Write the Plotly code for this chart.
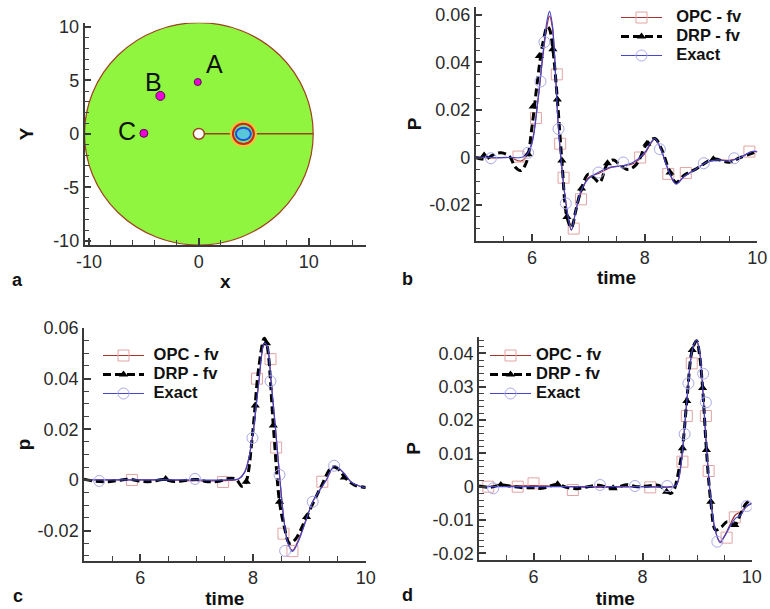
import plotly.graph_objects as go

W, H = 770, 609
FONT = "Liberation Sans"
AX = "#3a3a3a"
TXT = "#2a2a2a"

# ---- tick labels ----
a_xticks = [-10, 0, 10]
a_xlabels = ["-10", "0", "10"]
a_xminor = [-8, -6, -4, -2, 2, 4, 6, 8, 12, 14]
a_yticks = [-10, -5, 0, 5, 10]
a_ylabels = ["-10", "-5", "0", "5", "10"]
a_yminor = [-9, -8, -7, -6, -4, -3, -2, -1, 1, 2, 3, 4, 6, 7, 8, 9]
time_ticks = [6, 8, 10]
time_labels = ["6", "8", "10"]
time_minor = [5.5, 6.5, 7, 7.5, 8.5, 9, 9.5]
bc_yticks = [-0.02, 0, 0.02, 0.04, 0.06]
bc_ylabels = ["-0.02", "0", "0.02", "0.04", "0.06"]
bc_yminor = [-0.03, -0.025, -0.015, -0.01, -0.005, 0.005, 0.01, 0.015, 0.025, 0.03, 0.035, 0.045, 0.05, 0.055]
d_yticks = [-0.02, -0.01, 0, 0.01, 0.02, 0.03, 0.04]
d_ylabels = ["-0.02", "-0.01", "0", "0.01", "0.02", "0.03", "0.04"]
d_yminor = [-0.018, -0.016, -0.014, -0.012, -0.008, -0.006, -0.004, -0.002, 0.002, 0.004, 0.006, 0.008, 0.012, 0.014, 0.016, 0.018, 0.022, 0.024, 0.026, 0.028, 0.032, 0.034, 0.036, 0.038, 0.042, 0.044]

# ---- panel a ----
domain_radius = 10.4
hole_radius = 0.5
source_x = 4.05
probe_names = ["A", "B", "C"]
probe_x = [-0.1, -3.5, -5.0]
probe_y = [4.85, 3.55, 0.05]
probe_sizes = [7, 9, 8]
slit_x = [0.5, 10.4]
slit_y = [0, 0]

# ---- panel b ----
b_t = [5, 5.3, 5.6, 5.8, 5.9, 6.0, 6.1, 6.2, 6.27, 6.31, 6.36, 6.42, 6.47, 6.55, 6.62, 6.7, 6.78, 6.88, 7.0, 7.2, 7.4, 7.6, 7.8, 8.0, 8.1, 8.18, 8.27, 8.4, 8.5, 8.56, 8.7, 8.9, 9.1, 9.3, 9.5, 9.7, 9.9, 10]
b_exact = [0.0003, 0, 0, 0, 0.001, 0.006, 0.023, 0.045, 0.058, 0.0615, 0.056, 0.034, 0.012, -0.009, -0.022, -0.0305, -0.022, -0.0135, -0.009, -0.006, -0.004, -0.0035, -0.002, 0.002, 0.006, 0.008, 0.0045, -0.004, -0.0095, -0.0112, -0.008, -0.005, -0.002, -0.001, -0.0015, 0, 0.0025, 0.0025]
b_opc = [0.0003, -0.0002, 0, -0.0015, 0.0005, 0.0065, 0.023, 0.044, 0.056, 0.0595, 0.055, 0.034, 0.012, -0.009, -0.022, -0.0305, -0.022, -0.0145, -0.0085, -0.0065, -0.0042, -0.0035, -0.0025, 0.0015, 0.0055, 0.0078, 0.0045, -0.004, -0.0095, -0.011, -0.008, -0.005, -0.002, -0.001, -0.0012, 0, 0.0025, 0.0025]
b_drp_t = [5, 5.1, 5.2, 5.3, 5.45, 5.6, 5.7, 5.8, 5.9, 6.0, 6.1, 6.15, 6.2, 6.27, 6.31, 6.37, 6.45, 6.53, 6.62, 6.7, 6.78, 6.88, 7.0, 7.1, 7.2, 7.34, 7.45, 7.55, 7.7, 7.85, 8.04, 8.18, 8.3, 8.45, 8.56, 8.7, 8.9, 9.22, 9.5, 9.7, 10]
b_drp = [0, -0.0006, -0.0005, 0.001, 0.002, 0.0005, -0.004, -0.0055, -0.002, 0.013, 0.033, 0.042, 0.049, 0.055, 0.054, 0.0455, 0.0244, -0.0013, -0.025, -0.0295, -0.022, -0.013, -0.007, -0.0085, -0.0105, -0.0025, -0.001, -0.003, -0.005, -0.003, 0.0058, 0.008, 0.0035, -0.0063, -0.0105, -0.0075, -0.005, -0.0007, -0.002, 0, 0.0025]
b_opc_mt = [5.76, 6.07, 6.44, 6.50, 6.56, 6.74, 6.87, 7.92, 8.42, 8.73, 9.86]
b_opc_mv = [0.0004, 0.0166, 0.035, 0.0058, -0.0085, -0.0299, -0.0176, 0, -0.0069, -0.0065, 0.0025]
b_drp_mt = [5.15, 5.93, 6.02, 6.13, 6.37, 6.45, 6.53, 6.62, 6.88, 7.34, 8.04, 8.45, 9.22]
b_drp_mv = [0.0008, 0.0014, 0.0215, 0.0427, 0.0455, 0.0244, -0.0013, -0.025, -0.013, -0.0024, 0.0058, -0.0063, -0.0007]
b_exa_mt = [5.27, 5.93, 6.15, 6.22, 6.47, 6.60, 7.18, 7.62, 8.27, 9.05, 9.59]
b_exa_mv = [-0.0003, 0.002, 0.032, 0.0486, 0.012, -0.0193, -0.0063, -0.0021, 0.0035, -0.0024, -0.0003]

# ---- panel c ----
c_t = [5, 5.5, 6, 6.5, 7, 7.5, 7.75, 7.85, 7.92, 8.0, 8.1, 8.2, 8.25, 8.32, 8.4, 8.47, 8.55, 8.62, 8.7, 8.8, 9.0, 9.06, 9.3, 9.45, 9.6, 9.75, 9.9, 10]
c_exact = [0, 0, 0, 0, 0, 0, 0.0005, 0.003, 0.008, 0.0185, 0.038, 0.054, 0.053, 0.039, 0.02, 0.002, -0.016, -0.025, -0.0282, -0.0245, -0.012, -0.0086, 0.0, 0.0056, 0.003, -0.001, -0.0025, -0.003]
c_opc = [0, 0, 0, 0, -0.0003, -0.0003, 0.0005, 0.003, 0.008, 0.0185, 0.038, 0.0535, 0.0525, 0.039, 0.02, 0.002, -0.016, -0.025, -0.0278, -0.024, -0.012, -0.0086, 0.0, 0.0054, 0.003, -0.001, -0.0025, -0.003]
c_drp_t = [5, 5.2, 5.4, 5.6, 5.8, 6, 6.2, 6.4, 6.6, 6.8, 7, 7.2, 7.4, 7.6, 7.7, 7.8, 7.85, 7.9, 8.0, 8.1, 8.2, 8.25, 8.36, 8.47, 8.55, 8.65, 8.75, 8.95, 9.2, 9.4, 9.5, 9.65, 9.8, 10]
c_drp = [0.0003, -0.0005, -0.0007, -0.0002, 0.0003, -0.0005, -0.0006, 0.0002, -0.0006, -0.0002, 0.0002, -0.0007, -0.0005, 0.0007, 0.0003, -0.0025, -0.002, 0.001, 0.02, 0.044, 0.056, 0.053, 0.0215, -0.0086, -0.018, -0.025, -0.0235, -0.0146, -0.003, 0.005, 0.0045, 0.0005, -0.002, -0.003]
c_opc_mt = [5.85, 7.47, 8.07, 8.31, 8.41, 8.54, 8.70, 9.23]
c_opc_mv = [0, -0.0008, 0.04, 0.0477, 0.0128, -0.0212, -0.0281, -0.0007]
c_drp_mt = [6.45, 7.88, 8.04, 8.24, 8.36, 8.47, 8.95, 9.62]
c_drp_mv = [0.0004, -0.0007, 0.0294, 0.054, 0.0215, -0.0086, -0.0146, 0.001]
c_exa_mt = [5.27, 6.97, 7.99, 8.31, 8.47, 8.57, 9.06, 9.44]
c_exa_mv = [-0.0004, 0.0004, 0.0166, 0.039, 0.002, -0.028, -0.0086, 0.0056]

# ---- panel d ----
d_t = [5, 6, 7, 8, 8.55, 8.62, 8.67, 8.73, 8.81, 8.91, 8.99, 9.05, 9.1, 9.17, 9.25, 9.33, 9.42, 9.5, 9.6, 9.7, 9.8, 9.9, 10]
d_exact = [0, 0, 0, 0, 0, 0.0005, 0.003, 0.0105, 0.0255, 0.041, 0.044, 0.04, 0.03, 0.012, -0.004, -0.013, -0.0168, -0.015, -0.012, -0.0095, -0.0085, -0.006, -0.005]
d_opc = [0, 0.0003, -0.0002, 0, 0, 0.0005, 0.003, 0.0105, 0.0255, 0.0405, 0.0435, 0.04, 0.03, 0.012, -0.004, -0.013, -0.0165, -0.0148, -0.0115, -0.0085, -0.0075, -0.006, -0.005]
d_drp_t = [5, 5.2, 5.4, 5.6, 5.8, 6.0, 6.15, 6.44, 6.6, 6.8, 7.0, 7.2, 7.46, 7.7, 7.9, 8.1, 8.3, 8.44, 8.52, 8.58, 8.64, 8.73, 8.81, 8.91, 8.99, 9.04, 9.10, 9.17, 9.25, 9.34, 9.45, 9.55, 9.69, 9.8, 9.9, 10]
d_drp = [0.0002, -0.0002, 0.0005, 0.0001, -0.0003, -0.0003, -0.0005, 0.0007, -0.0002, -0.0006, 0, 0.0004, -0.0005, 0.0006, 0, 0.0002, 0.0004, -0.0015, -0.002, -0.0008, 0.003, 0.0115, 0.0257, 0.041, 0.0438, 0.04, 0.0296, 0.011, -0.0045, -0.013, -0.012, -0.0105, -0.0115, -0.008, -0.005, -0.004]
d_opc_mt = [5.17, 5.71, 6.0, 6.72, 8.14, 8.73, 8.81, 8.9, 9.16, 9.21, 9.54, 9.69]
d_opc_mv = [0, 0, 0.001, -0.001, -0.0002, 0.0075, 0.0212, 0.037, 0.0212, 0.0047, -0.0153, -0.0092]
d_drp_mt = [5.4, 6.44, 7.46, 8.44, 8.73, 8.81, 8.91, 9.10, 9.17, 9.25, 9.69]
d_drp_mv = [0.0005, 0.0007, -0.0005, -0.0015, 0.0115, 0.0257, 0.041, 0.0296, 0.011, -0.0045, -0.0115]
d_exa_mt = [5.26, 7.22, 7.86, 8.45, 8.77, 8.84, 9.11, 9.16, 9.37, 9.91]
d_exa_mv = [-0.0005, 0.0005, 0.0002, 0.0002, 0.0158, 0.031, 0.0339, 0.0253, -0.0165, -0.0058]

OPC_NAME, DRP_NAME, EXACT_NAME = "OPC - fv", "DRP - fv", "Exact"
RED, RED_M = "#a83232", "#e2a3a3"
BLUE, BLUE_M = "#4646cc", "#a9a9e8"


def gaps(vals):
    out = []
    for v in vals:
        out += [v, None]
    return out


def dom_x(a, b):
    return [a / W, b / W]


def dom_y(top, bottom):
    return [1 - bottom / H, 1 - top / H]


def lname(text, pad):
    return '<span style="font-size:16.5px">' + "&nbsp;" * pad + text + "</span>"


fig = go.Figure()


def add_panel(idx, legend, pad, t, opc, exact, drp_t, drp, om, dm, em):
    ax = dict(xaxis=f"x{idx}", yaxis=f"y{idx}")
    fig.add_trace(go.Scatter(x=t, y=opc, mode="lines", showlegend=False, line=dict(color=RED, width=1.2, shape="spline"), **ax))
    fig.add_trace(go.Scatter(x=gaps(om[0]), y=gaps(om[1]), name=lname(OPC_NAME, pad), legend=legend, mode="lines+markers",
                             line=dict(color=RED, width=1.2), connectgaps=False,
                             marker=dict(symbol="square-open", size=11, color=RED_M, line=dict(color=RED_M, width=1)), **ax))
    fig.add_trace(go.Scatter(x=drp_t, y=drp, mode="lines", showlegend=False, line=dict(color="black", width=3, dash="8px,4px", shape="spline"), **ax))
    fig.add_trace(go.Scatter(x=gaps(dm[0]), y=gaps(dm[1]), name=lname(DRP_NAME, pad), legend=legend, mode="lines+markers",
                             line=dict(color="black", width=3, dash="8px,4px"), connectgaps=False,
                             marker=dict(symbol="triangle-up", size=8, color="black"), **ax))
    fig.add_trace(go.Scatter(x=t, y=exact, mode="lines", showlegend=False, line=dict(color=BLUE, width=1.2, shape="spline"), **ax))
    fig.add_trace(go.Scatter(x=gaps(em[0]), y=gaps(em[1]), name=lname(EXACT_NAME, pad), legend=legend, mode="lines+markers",
                             line=dict(color=BLUE, width=1.2), connectgaps=False,
                             marker=dict(symbol="circle-open", size=11, color=BLUE_M, line=dict(color=BLUE_M, width=1)), **ax))


# panel a marks
fig.add_trace(go.Scatter(x=slit_x, y=slit_y, mode="lines", showlegend=False, line=dict(color="#a04020", width=1.5), xaxis="x", yaxis="y"))
fig.add_trace(go.Scatter(x=probe_x, y=probe_y, mode="markers", showlegend=False, text=probe_names,
                         marker=dict(color="#f000d8", opacity=1, size=probe_sizes, line=dict(color="#501048", width=1)), xaxis="x", yaxis="y"))

add_panel(2, "legend", 2, b_t, b_opc, b_exact, b_drp_t, b_drp, (b_opc_mt, b_opc_mv), (b_drp_mt, b_drp_mv), (b_exa_mt, b_exa_mv))
add_panel(3, "legend2", 1, c_t, c_opc, c_exact, c_drp_t, c_drp, (c_opc_mt, c_opc_mv), (c_drp_mt, c_drp_mv), (c_exa_mt, c_exa_mv))
add_panel(4, "legend3", 0, d_t, d_opc, d_exact, d_drp_t, d_drp, (d_opc_mt, d_opc_mv), (d_drp_mt, d_drp_mv), (d_exa_mt, d_exa_mv))


def circle(cx, cy, rx, ry, fill, line, lw, layer="below"):
    return dict(type="circle", xref="x", yref="y", x0=cx - rx, x1=cx + rx, y0=cy - ry, y1=cy + ry,
                fillcolor=fill, line=dict(color=line, width=lw), layer=layer)


shapes = [
    circle(0, 0, domain_radius, domain_radius, "#8ff53f", "#a04020", 1.2),
    circle(0, 0, hole_radius, hole_radius, "white", "#a04020", 1.5, "above"),
    circle(source_x, 0, 1.12, 1.12, "rgba(0,0,0,0)", "#f6c23a", 2.5, "above"),
    circle(source_x, 0, 0.95, 0.95, "#7fe070", "#c8281e", 2, "above"),
    circle(source_x, 0, 0.68, 0.58, "#58c8d8", "#1c50e0", 2, "above"),
]


def axis(domain, rng, tickvals, ticktext, minor_vals, anchor, title=None, standoff=None):
    d = dict(domain=domain, range=rng, tickmode="array", tickvals=tickvals, ticktext=ticktext, anchor=anchor,
             showgrid=False, zeroline=False, automargin=False,
             showline=True, linecolor=AX, linewidth=1.5, ticks="inside", ticklen=7, tickwidth=1.5, tickcolor=AX,
             minor=dict(tickmode="array", tickvals=minor_vals, ticks="inside", ticklen=5, tickwidth=1.2,
                        tickcolor="#444444", showgrid=False),
             tickfont=dict(family=FONT, size=18, color=TXT), fixedrange=True)
    if title:
        d["title"] = dict(text=title, standoff=standoff, font=dict(family=FONT, size=19, color="#111111", weight=700))
    return d


def legend_cfg(x, y):
    return dict(x=x / W, y=1 - y / H, xanchor="left", yanchor="top", bgcolor="rgba(0,0,0,0)", borderwidth=0,
                itemwidth=41, tracegroupgap=0, traceorder="normal",
                font=dict(family=FONT, size=11, color="#111111", weight=700))


def note(text, x, y, size=18, weight=700, refs=("paper", "paper")):
    return dict(text=text, x=x / W if refs[0] == "paper" else x, y=1 - y / H if refs[1] == "paper" else y,
                xref=refs[0], yref=refs[1], showarrow=False, xanchor="center", yanchor="middle",
                font=dict(family=FONT, size=size, color="#111111", weight=weight))


annotations = [note(s, x, y) for s, x, y in [("a", 17, 280), ("b", 408, 279), ("c", 18, 596), ("d", 408, 595)]]
label_x = [1.4, -4.1, -6.5]
label_y = [6.5, 4.85, 0.3]
for name, x, y in zip(probe_names, label_x, label_y):
    annotations.append(note(name, x, y, size=25, weight=400, refs=("x", "y")))

fig.update_layout(
    width=W, height=H, margin=dict(l=0, r=0, t=0, b=0), paper_bgcolor="white", plot_bgcolor="rgba(0,0,0,0)",
    shapes=shapes, annotations=annotations,
    xaxis=axis(dom_x(84.5, 366), [-10.4, 15.2], a_xticks, a_xlabels, a_xminor, "y", title="x", standoff=3),
    yaxis=axis(dom_y(22.7, 245), [-10.4, 10.4], a_yticks, a_ylabels, a_yminor, "x", title="Y", standoff=14),
    xaxis2=axis(dom_x(475.7, 757.3), [5, 10], time_ticks, time_labels, time_minor, "y2", title="time", standoff=4),
    yaxis2=axis(dom_y(7.3, 240.7), [-0.035, 0.0632], bc_yticks, bc_ylabels, bc_yminor, "x2", title="P", standoff=3),
    xaxis3=axis(dom_x(84, 365.7), [5, 10], time_ticks, time_labels, time_minor, "y3", title="time", standoff=10),
    yaxis3=axis(dom_y(328, 561), [-0.032, 0.06], bc_yticks, bc_ylabels, bc_yminor, "x3", title="p", standoff=2),
    xaxis4=axis(dom_x(479, 751.7), [5, 10], time_ticks, time_labels, time_minor, "y4", title="time", standoff=6),
    yaxis4=axis(dom_y(336.7, 560), [-0.022, 0.045], d_yticks, d_ylabels, d_yminor, "x4", title="P", standoff=7),
    legend=legend_cfg(616, 3),
    legend2=legend_cfg(98, 341),
    legend3=legend_cfg(485, 341),
)

fig.write_html("out.html", config=dict(displayModeBar=False),
               post_script="document.body.style.margin='0';")
